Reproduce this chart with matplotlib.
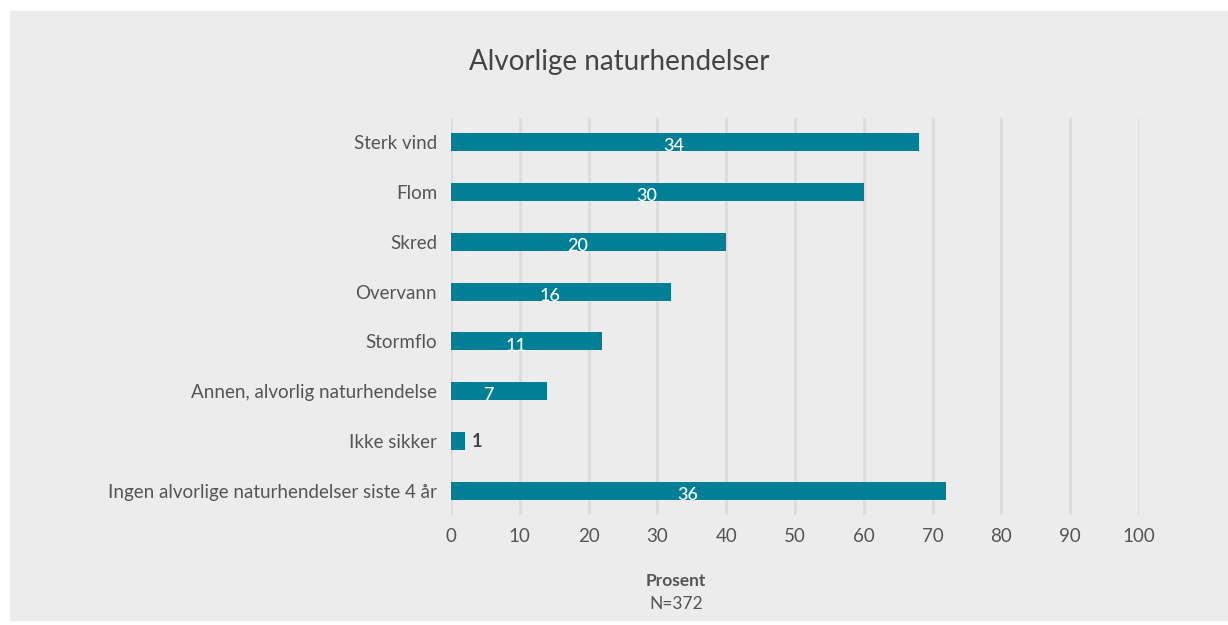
import matplotlib.pyplot as plt

# categories top to bottom
categories = ["Sterk vind", "Flom", "Skred", "Overvann", "Stormflo",
              "Annen, alvorlig naturhendelse", "Ikke sikker",
              "Ingen alvorlige naturhendelser siste 4 år"]
# bar lengths
bar_lengths = [68, 60, 40, 32, 22, 14, 2, 72]
# labels printed on the bars
labels = [34, 30, 20, 16, 11, 7, 1, 36]
xticks = [0, 10, 20, 30, 40, 50, 60, 70, 80, 90, 100]

bg = "#ececec"
bar_colour = "#007f96"
text_colour = "#555555"

plt.rcParams["font.family"] = ["Lato", "DejaVu Sans"]

fig = plt.figure(figsize=(12.28, 6.25), dpi=100)
# grey panel with a thin white border
panel = plt.Rectangle((10 / 1228, 0.008), 1 - 10 / 1228, 1 - 0.008 - 11 / 625,
                      transform=fig.transFigure, color=bg, zorder=-10)
fig.add_artist(panel)

ax = fig.add_axes([0.3673, 0.176, 0.5603, 0.6352])
ax.set_zorder(1)
ax.set_facecolor(bg)
ypos = list(range(len(categories)))
ax.barh(ypos, bar_lengths, height=0.36, color=bar_colour, zorder=3)

ax.set_xlim(0, 100)
ax.set_ylim(len(categories) - 0.52, -0.48)
ax.set_xticks(xticks)
ax.set_yticks(ypos)
ax.set_yticklabels(categories)
ax.tick_params(axis="y", length=0, labelsize=13.5, colors=text_colour, pad=10)
ax.tick_params(axis="x", length=0, labelsize=13.5, colors=text_colour, pad=9)
ax.grid(axis="x", color="#dcdcdc", linewidth=2, zorder=0)
for s in ax.spines.values():
    s.set_visible(False)

for y, length, lab in zip(ypos, bar_lengths, labels):
    if length > 5:
        ax.annotate(str(lab), (length / 2, y), xytext=(-8, -3), textcoords="offset points",
                    ha="center", va="center", color="white", fontsize=13,
                    fontweight="medium", zorder=4)
    else:
        ax.annotate(str(lab), (length, y), xytext=(5, 0), textcoords="offset points",
                    ha="left", va="center", color="#444444", fontsize=13,
                    fontweight="bold", zorder=4)

fig.text(0.5041, 0.901, "Alvorlige naturhendelser", ha="center", va="center",
         fontsize=20, color="#444444", fontweight="normal", zorder=2)
fig.text(0.5505, 0.070, "Prosent", ha="center", va="center", fontsize=12.5,
         fontweight="bold", color=text_colour, zorder=2)
fig.text(0.5505, 0.033, "N=372", ha="center", va="center", fontsize=12.5,
         color=text_colour, zorder=2)

fig.savefig("out.png", dpi=100, facecolor="white")
